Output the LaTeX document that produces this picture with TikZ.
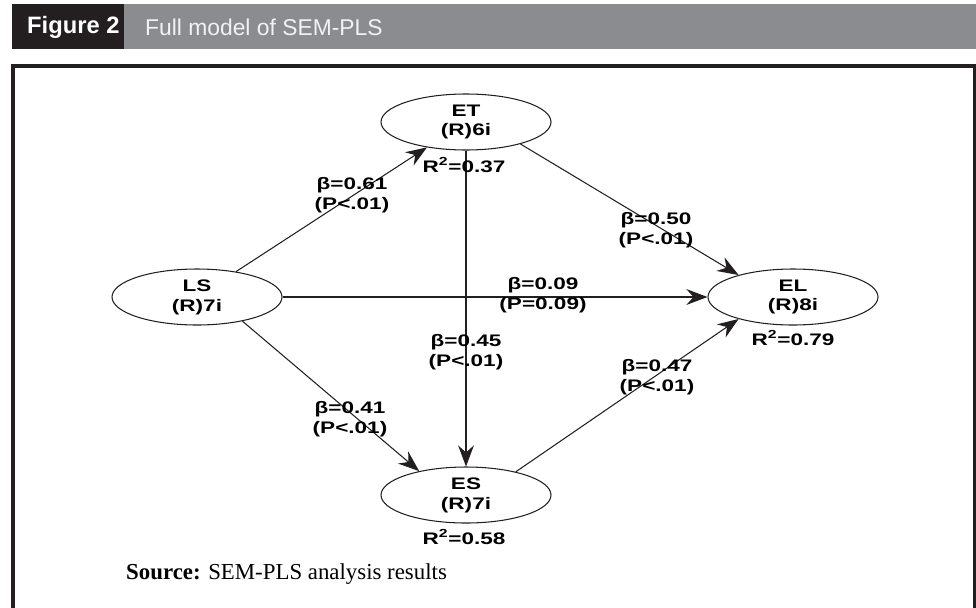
\documentclass[tikz,border=0pt]{standalone}
\usepackage{fontspec}
\setmainfont{Liberation Serif}
\newfontfamily\headfont{Liberation Sans}
\newfontfamily\pathfont[FakeStretch=1.35]{Liberation Sans}
\usepackage{xcolor}
\usetikzlibrary{shapes.geometric,arrows.meta}
\definecolor{ink}{HTML}{231F20}
\definecolor{bar}{HTML}{8B8C8F}
\definecolor{pale}{HTML}{F2F2F2}
\tikzset{
  frame/.style={draw=ink, line width=1.8pt},
  latent/.style={ellipse, draw=ink, line width=0.6pt, minimum width=34mm, minimum height=11.2mm,
    inner sep=0pt, align=center, font=\pathfont\bfseries\fontsize{9.5}{11.3}\selectfont},
  path/.style={draw=ink, line width=0.6pt, -{Stealth[length=12pt,width=9pt,inset=4pt]}},
  coef/.style={align=center, inner sep=0pt, font=\pathfont\bfseries\fontsize{9.5}{11.3}\selectfont},
  rsq/.style={inner sep=0pt, font=\pathfont\bfseries\fontsize{9.5}{11.3}\selectfont},
}

\begin{document}
\begin{tikzpicture}[x=0.2mm, y=-0.2mm]
  \useasboundingbox (0,0) rectangle (976,607);
  % title bar
  \fill[bar] (124,4) rectangle (976,49);
  \fill[ink] (12,4) rectangle (124,49);
  \node[anchor=west, text=white, font=\headfont\bfseries\fontsize{13.5}{15}\selectfont] (fig) at (21,27) {Figure 2};
  \node[anchor=west, text=pale, font=\headfont\fontsize{13}{15}\selectfont] (title) at (139,27) {Full model of SEM-PLS};
  \draw[frame] (13,610) -- (13,66) -- (975,66) -- (975,610);
  % constructs
  \foreach \N/\x/\y/\t in {LS/197/297/(R)7i, ET/466/122/(R)6i, ES/466/495/(R)7i, EL/793/297/(R)8i}
    \node[latent] (\N) at (\x,\y) {\N\\\t};
  % paths
  \draw[path] (LS) -- (ET);
  \draw[path] (LS) -- (EL);
  \draw[path] (LS.-28) -- (ES.153);
  \draw[path] (ET) -- (ES);
  \draw[path] (ET.-22) -- (EL.158);
  \draw[path] (ES.25) -- (EL.202);
  % coefficients
  \foreach \N/\x/\y/\b/\p in {b61/352/195/0.61/P<.01, b50/656/230/0.50/P<.01, b09/543/295/0.09/P=0.09,
      b45/466/352/0.45/P<.01, b41/350/419/0.41/P<.01, b47/657/377/0.47/P<.01}
    \node[coef] (\N) at (\x,\y) {β=\b\\(\p)};
  \node[rsq] (r37) at (464,165) {R\textsuperscript{2}=0.37};
  \node[rsq] (r79) at (793,338) {R\textsuperscript{2}=0.79};
  \node[rsq] (r58) at (464,537) {R\textsuperscript{2}=0.58};
  \node[anchor=west, font=\fontsize{13}{15}\selectfont] (src) at (120,574) {\textbf{Source:} SEM-PLS analysis results};
\end{tikzpicture}
\end{document}
